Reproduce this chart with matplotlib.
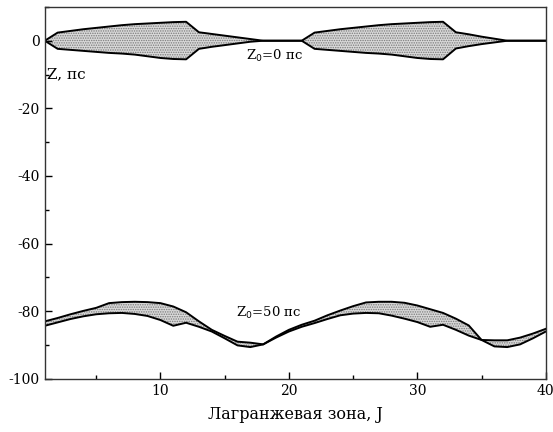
import matplotlib
matplotlib.use('Agg')
import matplotlib.pyplot as plt
from matplotlib.ticker import MultipleLocator

plt.rcParams['font.family'] = ['DejaVu Serif']
plt.rcParams['axes.unicode_minus'] = False
plt.rcParams['hatch.color'] = '#7a7a7a'
plt.rcParams['hatch.linewidth'] = 0.7

# Лагранжевы зоны
J = list(range(1, 41))

# Z0 = 0 пс: верхняя и нижняя границы
upper0 = [0, 2.4, 2.9, 3.4, 3.8, 4.2, 4.6, 4.9, 5.1, 5.3, 5.5, 5.6,
          2.5, 2.0, 1.5, 1.0, 0.5, 0, 0, 0,
          0, 2.4, 2.9, 3.4, 3.8, 4.2, 4.6, 4.9, 5.1, 5.3, 5.5, 5.6,
          2.5, 1.9, 1.2, 0.6, 0, 0, 0, 0]
lower0 = [0, -2.4, -2.7, -3.0, -3.3, -3.6, -3.8, -4.1, -4.6, -5.1, -5.4, -5.5,
          -2.4, -1.8, -1.3, -0.8, -0.3, 0, 0, 0,
          0, -2.4, -2.7, -3.0, -3.3, -3.6, -3.8, -4.1, -4.6, -5.1, -5.4, -5.5,
          -2.3, -1.6, -1.0, -0.5, 0, 0, 0, 0]

# Z0 = 50 пс
upper50 = [-83.0, -82.0, -80.9, -79.9, -79.0, -77.6, -77.3, -77.2, -77.3, -77.6,
           -78.6, -80.3, -83.0, -85.5, -87.3, -89.0, -89.3, -89.8, -87.5, -85.5,
           -84.0, -82.8, -81.2, -79.8, -78.5, -77.4, -77.2, -77.2, -77.5, -78.3,
           -79.4, -80.5, -82.2, -84.2, -88.5, -88.6, -88.6, -87.8, -86.6, -85.2]
lower50 = [-84.3, -83.3, -82.3, -81.5, -80.9, -80.6, -80.5, -80.8, -81.4, -82.6,
           -84.3, -83.4, -84.6, -86.0, -88.0, -90.1, -90.6, -89.8, -87.8, -86.0,
           -84.6, -83.5, -82.3, -81.2, -80.7, -80.5, -80.6, -81.3, -82.2, -83.2,
           -84.6, -84.0, -85.5, -87.2, -88.5, -90.4, -90.6, -89.8, -88.0, -86.0]

fig = plt.figure(figsize=(5.53, 4.32), dpi=100)
ax = fig.add_axes([0.081, 0.123, 0.906, 0.861])

for up, lo in [(upper0, lower0), (upper50, lower50)]:
    ax.fill_between(J, lo, up, facecolor='#d9d9d9', hatch='.......',
                    edgecolor='#7a7a7a', linewidth=0)
    ax.plot(J, up, color='black', lw=1.4)
    ax.plot(J, lo, color='black', lw=1.4)

ax.set_xlim(1, 40)
ax.set_ylim(-100, 10)
ax.xaxis.set_major_locator(MultipleLocator(10))
ax.xaxis.set_minor_locator(MultipleLocator(5))
ax.yaxis.set_major_locator(MultipleLocator(20))
ax.yaxis.set_minor_locator(MultipleLocator(10))
ax.tick_params(which='both', direction='in', top=False, right=False,
               labelsize=10, width=1)
ax.tick_params(which='major', length=5)
ax.tick_params(which='minor', length=3)
for s in ax.spines.values():
    s.set_linewidth(1.0)
    s.set_color('#333333')

ax.text(1.2, -10, 'Z, пс', fontsize=11, va='center', ha='left')
ax.text(16.7, -4.6, 'Z$_0$=0 пс', fontsize=9.5, va='center', ha='left')
ax.text(15.9, -80.4, 'Z$_0$=50 пс', fontsize=9.5, va='center', ha='left')
ax.set_xlabel('Лагранжевая зона, J', fontsize=11.5, labelpad=6)

fig.savefig('out.png', dpi=100)
